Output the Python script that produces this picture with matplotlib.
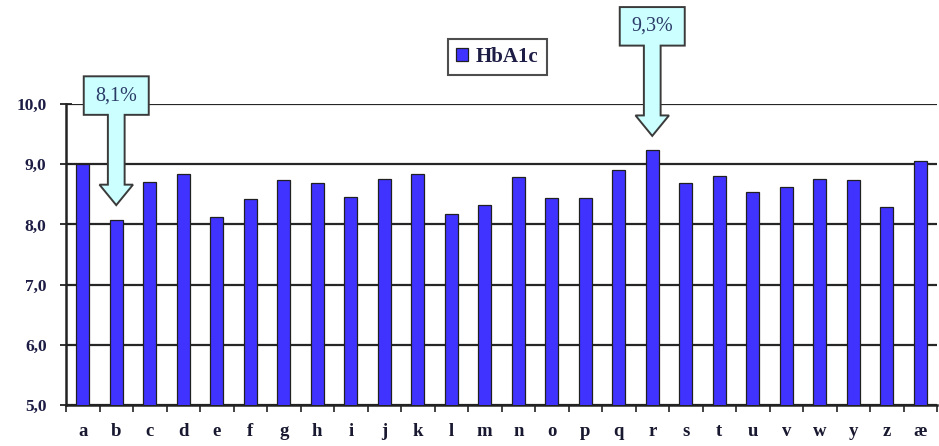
import matplotlib
matplotlib.use("Agg")
import matplotlib.pyplot as plt
from matplotlib.patches import Polygon
import numpy as np

categories = ["a", "b", "c", "d", "e", "f", "g", "h", "i", "j", "k", "l", "m",
              "n", "o", "p", "q", "r", "s", "t", "u", "v", "w", "y", "z", "æ"]
hba1c = [9.0, 8.08, 8.7, 8.83, 8.13, 8.43, 8.74, 8.68, 8.46, 8.75, 8.83, 8.17, 8.32,
         8.79, 8.44, 8.44, 8.9, 9.23, 8.68, 8.8, 8.53, 8.62, 8.75, 8.73, 8.29, 9.06]
series_name = "HbA1c"
y_ticks = [5, 6, 7, 8, 9, 10]
y_tick_labels = ["5,0", "6,0", "7,0", "8,0", "9,0", "10,0"]
callout_labels = ["8,1%", "9,3%"]
callout_index = [1, 17]

bar_color = "#4033ff"
text_color = "#1c1c44"
serif = ["Liberation Serif", "DejaVu Serif"]

fig = plt.figure(figsize=(9.39, 4.46), dpi=100)
ax = fig.add_axes([66 / 939, 41 / 446, 871 / 939, 301 / 446])

x = np.arange(len(categories))
ax.bar(x, hba1c, width=0.4, bottom=0, color=bar_color, edgecolor="#202020",
       linewidth=0.9, label=series_name, zorder=3)

ax.set_xlim(-0.5, len(categories) - 0.5)
ax.set_ylim(5, 10)
ax.set_yticks(y_ticks)
ax.set_yticklabels(y_tick_labels, fontfamily=serif, fontweight="bold",
                   fontsize=12.5, color=text_color)
ax.set_xticks(x)
ax.set_xticklabels(categories, fontfamily=serif, fontweight="bold",
                   fontsize=13.5, color="#181830")
ax.set_xticks(np.arange(-0.5, len(categories), 1), minor=True)
ax.tick_params(axis="x", which="major", length=0, pad=13)
ax.tick_params(axis="x", which="minor", length=5, width=1.2, direction="out", color="#222")
ax.tick_params(axis="y", which="major", length=8, width=1.3, direction="inout",
               color="#222", pad=10)

ax.yaxis.grid(True, color="#262626", linewidth=1.6, zorder=1)
ax.set_axisbelow(True)
for s in ["top", "right"]:
    ax.spines[s].set_visible(False)
for s in ["left", "bottom"]:
    ax.spines[s].set_linewidth(1.8)
    ax.spines[s].set_color("#222")

# callouts (down-arrow callout shapes above selected bars)
gap, head_h, shaft_h, box_h = 0.24, 0.34, 1.16, 0.64
box_w, head_w, shaft_w = 0.97, 0.5, 0.25
for lab, idx in zip(callout_labels, callout_index):
    cx = x[idx]
    tip = hba1c[idx] + gap
    hb = tip + head_h
    bb = hb + shaft_h
    bt = bb + box_h
    pts = [(cx, tip), (cx + head_w, hb), (cx + shaft_w, hb), (cx + shaft_w, bb),
           (cx + box_w, bb), (cx + box_w, bt), (cx - box_w, bt), (cx - box_w, bb),
           (cx - shaft_w, bb), (cx - shaft_w, hb), (cx - head_w, hb)]
    poly = Polygon(pts, closed=True, facecolor="#ccffff", edgecolor="#3a3a3a",
                   linewidth=1.4, zorder=5, clip_on=False)
    ax.add_patch(poly)
    ax.text(cx, (bb + bt) / 2, lab, ha="center", va="center", fontsize=14.5,
            fontfamily=serif, color="#2a3a66", zorder=6, clip_on=False)

leg = ax.legend(loc="center", bbox_to_anchor=(0.495, 1.156), frameon=True,
                fancybox=False, edgecolor="#222", handlelength=0.6, handleheight=0.6,
                handletextpad=0.35, borderpad=0.4,
                prop={"family": serif, "weight": "bold", "size": 15})
leg.get_frame().set_linewidth(1.5)
for t in leg.get_texts():
    t.set_color(text_color)

fig.savefig("out.png", dpi=100)
